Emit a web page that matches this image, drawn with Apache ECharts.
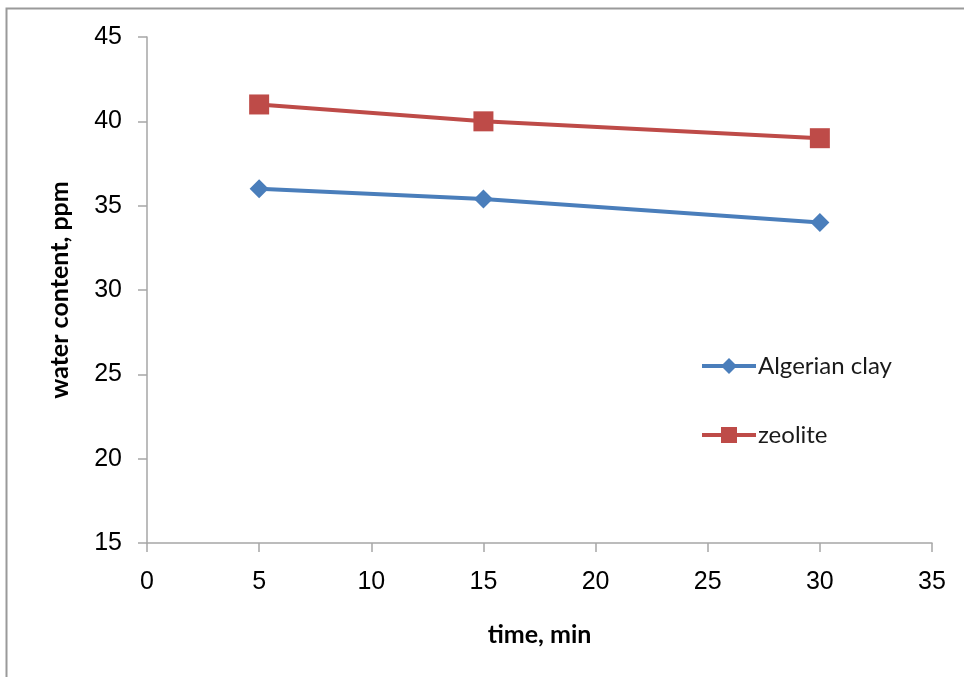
<!DOCTYPE html>
<html>
<head>
    <meta charset="utf-8">
    <title>water content</title>
    <script src="https://cdn.jsdelivr.net/npm/echarts@6/dist/echarts.min.js"></script>
    <style>
        html, body { margin: 0; padding: 0; background: #fff; }
    </style>
</head>
<body>

<div id="main" style="width: 964px;height:677px;"></div>

<script type="text/javascript">

    // data
    var times = [5, 15, 30];
    var clay = [36, 35.4, 34];
    var zeolite = [41, 40, 39];
    var seriesNames = ['Algerian clay', 'zeolite'];

    function pairs(xs, ys) {
        var out = [];
        for (var i = 0; i < xs.length; i++) {
            out.push([xs[i], ys[i]]);
        }
        return out;
    }

    var myChart = echarts.init(document.getElementById('main'));

    var axisGrey = '#a6a6a6';
    var labelFont = '"Liberation Sans", Arial, sans-serif';
    var nameFont = 'Lato, "Open Sans", sans-serif';

    var option = {
        animation: false,
        backgroundColor: '#fff',
        graphic: [{
            type: 'rect',
            shape: { x: 6.5, y: 8.5, width: 1000, height: 1000 },
            style: { fill: 'none', stroke: '#9a9a9a', lineWidth: 2 },
            silent: true
        }],
        grid: {
            left: 147,
            right: 32,
            top: 37,
            bottom: 134
        },
        legend: {
            orient: 'vertical',
            left: 695,
            top: 349,
            itemWidth: 54,
            itemHeight: 20,
            itemGap: 45,
            lineStyle: { width: 4 },
            textStyle: {
                fontFamily: nameFont,
                fontSize: 24,
                color: '#1a1a1a',
                padding: [0, 0, 0, -3]
            },
            data: seriesNames
        },
        xAxis: {
            type: 'value',
            min: 0,
            max: 35,
            interval: 5,
            name: 'time, min',
            nameLocation: 'middle',
            nameGap: 79,
            nameTextStyle: {
                fontFamily: nameFont,
                fontWeight: 'bold',
                fontSize: 25,
                color: '#000'
            },
            axisLine: { show: true, lineStyle: { color: axisGrey, width: 1.5 } },
            axisTick: { show: true, length: 9, lineStyle: { color: axisGrey, width: 1.5 } },
            axisLabel: {
                margin: 27,
                fontFamily: labelFont,
                fontSize: 25,
                color: '#000'
            },
            splitLine: { show: false }
        },
        yAxis: {
            type: 'value',
            min: 15,
            max: 45,
            interval: 5,
            name: 'water content, ppm',
            nameLocation: 'middle',
            nameGap: 75,
            nameTextStyle: {
                fontFamily: nameFont,
                fontWeight: 'bold',
                fontSize: 25,
                color: '#000'
            },
            axisLine: { show: true, lineStyle: { color: axisGrey, width: 1.5 } },
            axisTick: { show: true, length: 9, lineStyle: { color: axisGrey, width: 1.5 } },
            axisLabel: {
                margin: 25,
                fontFamily: labelFont,
                fontSize: 25,
                color: '#000'
            },
            splitLine: { show: false }
        },
        series: [
            {
                name: seriesNames[0],
                type: 'line',
                data: pairs(times, clay),
                symbol: 'diamond',
                symbolSize: 19,
                color: '#4a7ebb',
                lineStyle: { width: 4, color: '#4a7ebb' },
                itemStyle: { color: '#4a7ebb' }
            },
            {
                name: seriesNames[1],
                type: 'line',
                data: pairs(times, zeolite),
                symbol: 'rect',
                symbolSize: 20,
                color: '#be4b48',
                lineStyle: { width: 4, color: '#be4b48' },
                itemStyle: { color: '#be4b48' }
            }
        ]
    };

    myChart.setOption(option);

</script>
</body>
</html>
